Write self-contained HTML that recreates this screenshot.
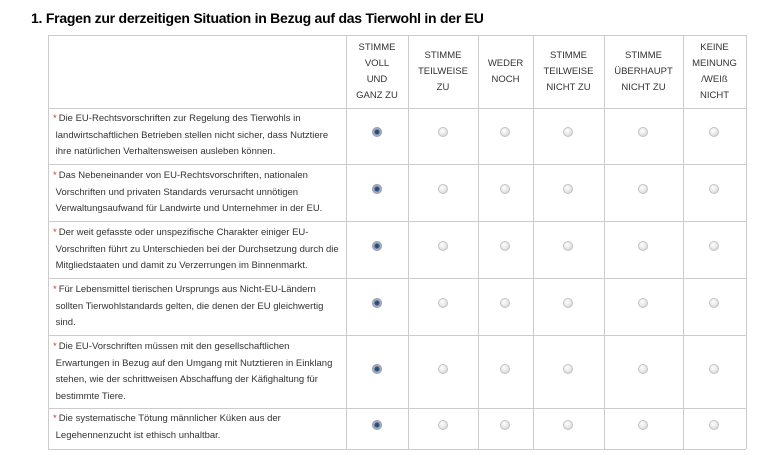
<!DOCTYPE html>
<html><head><meta charset="utf-8"><style>
body{margin:0;width:768px;height:455px;background:#fff;position:relative;overflow:hidden;font-family:"Liberation Sans",sans-serif;color:#333}
h1{position:absolute;left:31px;top:10px;margin:0;font-size:14px;font-weight:bold;color:#000;letter-spacing:-0.25px}
.hl,.vl{position:absolute;background:#ccc}
.hl{height:1px;left:48px;width:698px}
.vl{width:1px;top:35px;height:414px}
.hd{position:absolute;top:35px;height:73px;display:flex;align-items:center;justify-content:center;text-align:center;font-size:9.5px;line-height:16px;color:#333}
.q{position:absolute;left:53px;width:290px;font-size:9.5px;line-height:16.5px;color:#333}
.q b{color:#d33;font-weight:normal;margin-right:2px}
.r{position:absolute;width:8px;height:8px;border-radius:50%;background:radial-gradient(circle at 40% 35%,#fff,#e4e4e4 60%,#c4c4c4);border:1px solid #c4c4c4;margin:-5px 0 0 -5px}
.r.on{background:radial-gradient(circle,#2a4a7a 0,#2a4a7a 30%,#9ab 55%,#cdd 100%);border-color:#99a}
</style></head><body>
<h1>1. Fragen zur derzeitigen Situation in Bezug auf das Tierwohl in der EU</h1>
<div class="hl" style="top:35px"></div><div class="hl" style="top:108px"></div><div class="hl" style="top:164px"></div><div class="hl" style="top:221px"></div><div class="hl" style="top:278px"></div><div class="hl" style="top:335px"></div><div class="hl" style="top:408px"></div><div class="hl" style="top:449px"></div>
<div class="vl" style="left:48px"></div><div class="vl" style="left:346px"></div><div class="vl" style="left:408px"></div><div class="vl" style="left:478px"></div><div class="vl" style="left:533px"></div><div class="vl" style="left:604px"></div><div class="vl" style="left:683px"></div><div class="vl" style="left:746px"></div>
<div class="hd" style="left:346px;width:62px">STIMME<br>VOLL<br>UND<br>GANZ ZU</div>
<div class="hd" style="left:408px;width:70px">STIMME<br>TEILWEISE<br>ZU</div>
<div class="hd" style="left:478px;width:55px">WEDER<br>NOCH</div>
<div class="hd" style="left:533px;width:71px">STIMME<br>TEILWEISE<br>NICHT ZU</div>
<div class="hd" style="left:604px;width:79px">STIMME<br>ÜBERHAUPT<br>NICHT ZU</div>
<div class="hd" style="left:683px;width:63px">KEINE<br>MEINUNG<br>/WEIß<br>NICHT</div>
<div class="q" style="top:111px"><b>*</b>Die EU-Rechtsvorschriften zur Regelung des Tierwohls in<br>&nbsp;landwirtschaftlichen Betrieben stellen nicht sicher, dass Nutztiere<br>&nbsp;ihre natürlichen Verhaltensweisen ausleben können.</div>
<div class="q" style="top:168px"><b>*</b>Das Nebeneinander von EU-Rechtsvorschriften, nationalen<br>&nbsp;Vorschriften und privaten Standards verursacht unnötigen<br>&nbsp;Verwaltungsaufwand für Landwirte und Unternehmer in der EU.</div>
<div class="q" style="top:225px"><b>*</b>Der weit gefasste oder unspezifische Charakter einiger EU-<br>&nbsp;Vorschriften führt zu Unterschieden bei der Durchsetzung durch die<br>&nbsp;Mitgliedstaaten und damit zu Verzerrungen im Binnenmarkt.</div>
<div class="q" style="top:282px"><b>*</b>Für Lebensmittel tierischen Ursprungs aus Nicht-EU-Ländern<br>&nbsp;sollten Tierwohlstandards gelten, die denen der EU gleichwertig<br>&nbsp;sind.</div>
<div class="q" style="top:339px"><b>*</b>Die EU-Vorschriften müssen mit den gesellschaftlichen<br>&nbsp;Erwartungen in Bezug auf den Umgang mit Nutztieren in Einklang<br>&nbsp;stehen, wie der schrittweisen Abschaffung der Käfighaltung für<br>&nbsp;bestimmte Tiere.</div>
<div class="q" style="top:411px"><b>*</b>Die systematische Tötung männlicher Küken aus der<br>&nbsp;Legehennenzucht ist ethisch unhaltbar.</div>
<script>
var ys=[132,189,246,303,369,425],xs=[377,443,505,568,643,714];
ys.forEach(function(y){xs.forEach(function(x,i){var d=document.createElement('div');d.className='r'+(i==0?' on':'');d.style.left=x+'px';d.style.top=y+'px';document.body.appendChild(d);});});
</script>
</body></html>
